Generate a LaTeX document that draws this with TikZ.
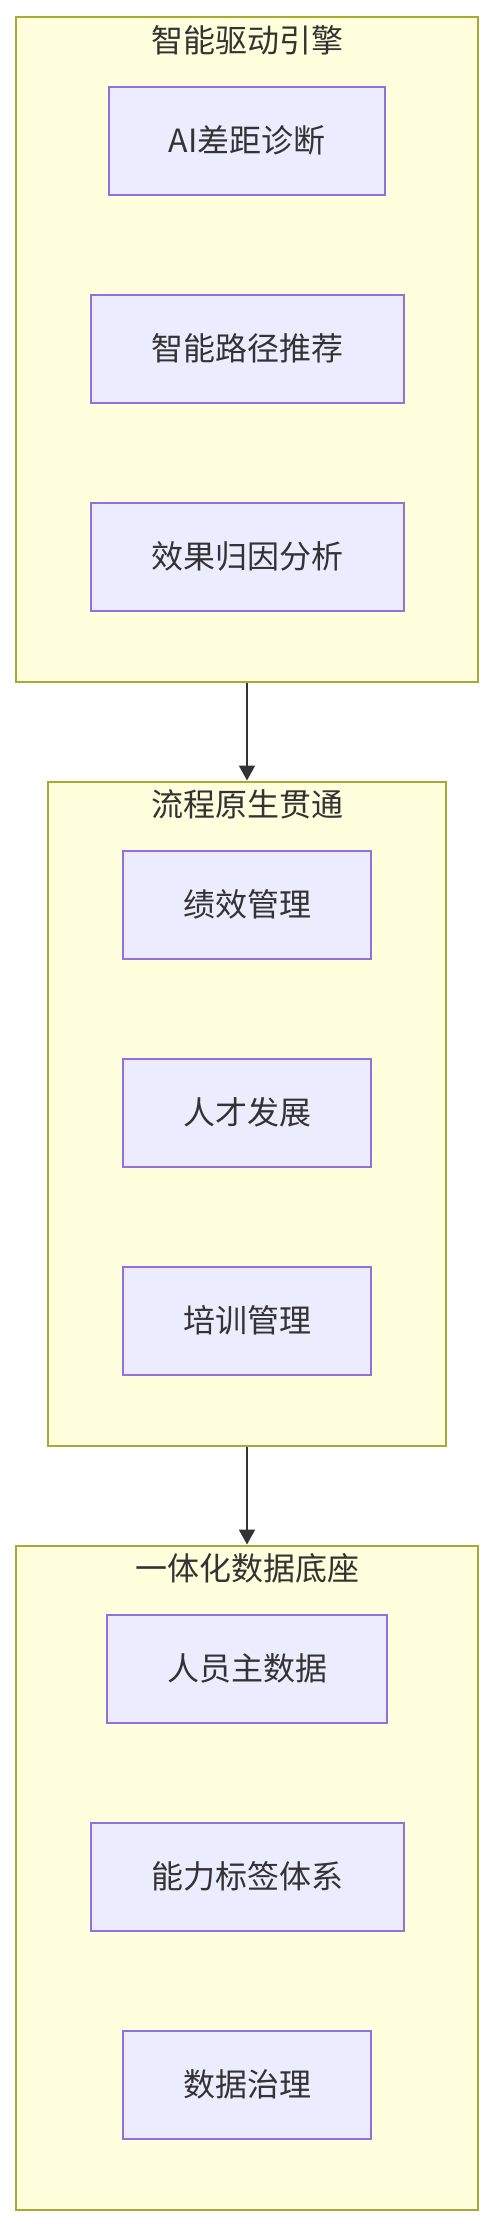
\documentclass[tikz,border=0pt]{standalone}
\usepackage{fontspec}
\setmainfont{Noto Sans CJK SC}
\usetikzlibrary{arrows.meta}
\definecolor{clfill}{HTML}{FFFFDE}
\definecolor{cldraw}{HTML}{AAAA33}
\definecolor{ndfill}{HTML}{ECECFF}
\definecolor{nddraw}{HTML}{9370DB}
\definecolor{txt}{HTML}{333333}
\begin{document}
\begin{tikzpicture}[x=1pt,y=-1pt,
  cluster/.style={draw=cldraw, fill=clfill, line width=2pt, anchor=north, minimum height=664pt, inner sep=0pt},
  box/.style={draw=nddraw, fill=ndfill, line width=2pt, minimum height=108pt, inner sep=0pt, text=txt, font=\fontsize{32}{38}\selectfont},
  ttl/.style={text=txt, inner sep=0pt, font=\fontsize{32}{38}\selectfont},
  conn/.style={draw=txt, line width=2pt, -{Triangle[length=15pt,width=16pt]}}]
\useasboundingbox (0,0) rectangle (494,2224);
% clusters
\node[cluster, minimum width=462.6pt] (c1) at (247,16.5) {};
\node[cluster, minimum width=398.6pt] (c2) at (247,780.5) {};
\node[cluster, minimum width=462.6pt] (c3) at (247,1544.5) {};
% titles
\node[ttl] (t1) at (247,40.5) {智能驱动引擎};
\node[ttl] (t2) at (247,804.5) {流程原生贯通};
\node[ttl] (t3) at (247,1568.5) {一体化数据底座};
% cluster 1
\node[box, minimum width=276.6pt] (a1) at (247,140.5) {AI差距诊断};
\node[box, minimum width=313pt] (a2) at (247,348.5) {智能路径推荐};
\node[box, minimum width=313pt] (a3) at (247,556.5) {效果归因分析};
% cluster 2
\node[box, minimum width=248.6pt] (b1) at (247,904.5) {绩效管理};
\node[box, minimum width=248.6pt] (b2) at (247,1112.5) {人才发展};
\node[box, minimum width=248.6pt] (b3) at (247,1320.5) {培训管理};
% cluster 3
\node[box, minimum width=280.6pt] (d1) at (247,1668.5) {人员主数据};
\node[box, minimum width=313pt] (d2) at (247,1876.5) {能力标签体系};
\node[box, minimum width=248.6pt] (d3) at (247,2084.5) {数据治理};
% connectors
\draw[conn] (c1.south) -- (c2.north);
\draw[conn] (c2.south) -- (c3.north);
\end{tikzpicture}
\end{document}
